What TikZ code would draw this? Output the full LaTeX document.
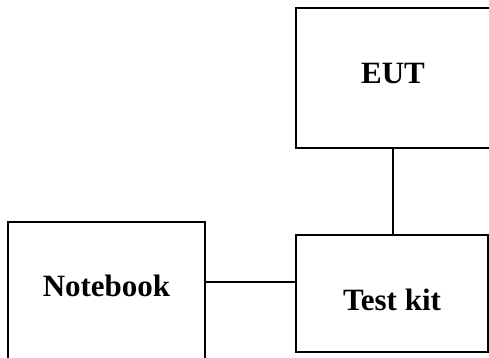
\documentclass[tikz,border=0pt]{standalone}
\usepackage{fontspec}
\setmainfont{Liberation Serif}
\newcommand{\shiftlabel}[2]{\raisebox{#1}[\height][\depth]{#2}}
\begin{document}
\begin{tikzpicture}[x=1pt, y=-1pt,
        unit/.style={rectangle, draw, line width=1.2pt, inner sep=0pt,
            font=\fontsize{31}{31}\selectfont\bfseries}]
        \clip (0,0) rectangle (489,358);
        \node [unit, minimum width=194pt, minimum height=140pt] (eut) at (393,78) {\shiftlabel{5pt}{EUT}};
        \node [unit, minimum width=197pt, minimum height=140pt] (notebook) at (106.5,292) {\shiftlabel{6pt}{Notebook}};
        \node [unit, minimum width=192pt, minimum height=117pt] (testkit) at (392,293.5) {\shiftlabel{-6pt}{Test kit}};
        \draw [line width=1.2pt] (eut.south) -- (eut.south |- testkit.north);
        \draw [line width=1.2pt] ([yshift=10pt]notebook.east) -- ([yshift=10pt]notebook.east -| testkit.west);
    \end{tikzpicture}
\end{document}
